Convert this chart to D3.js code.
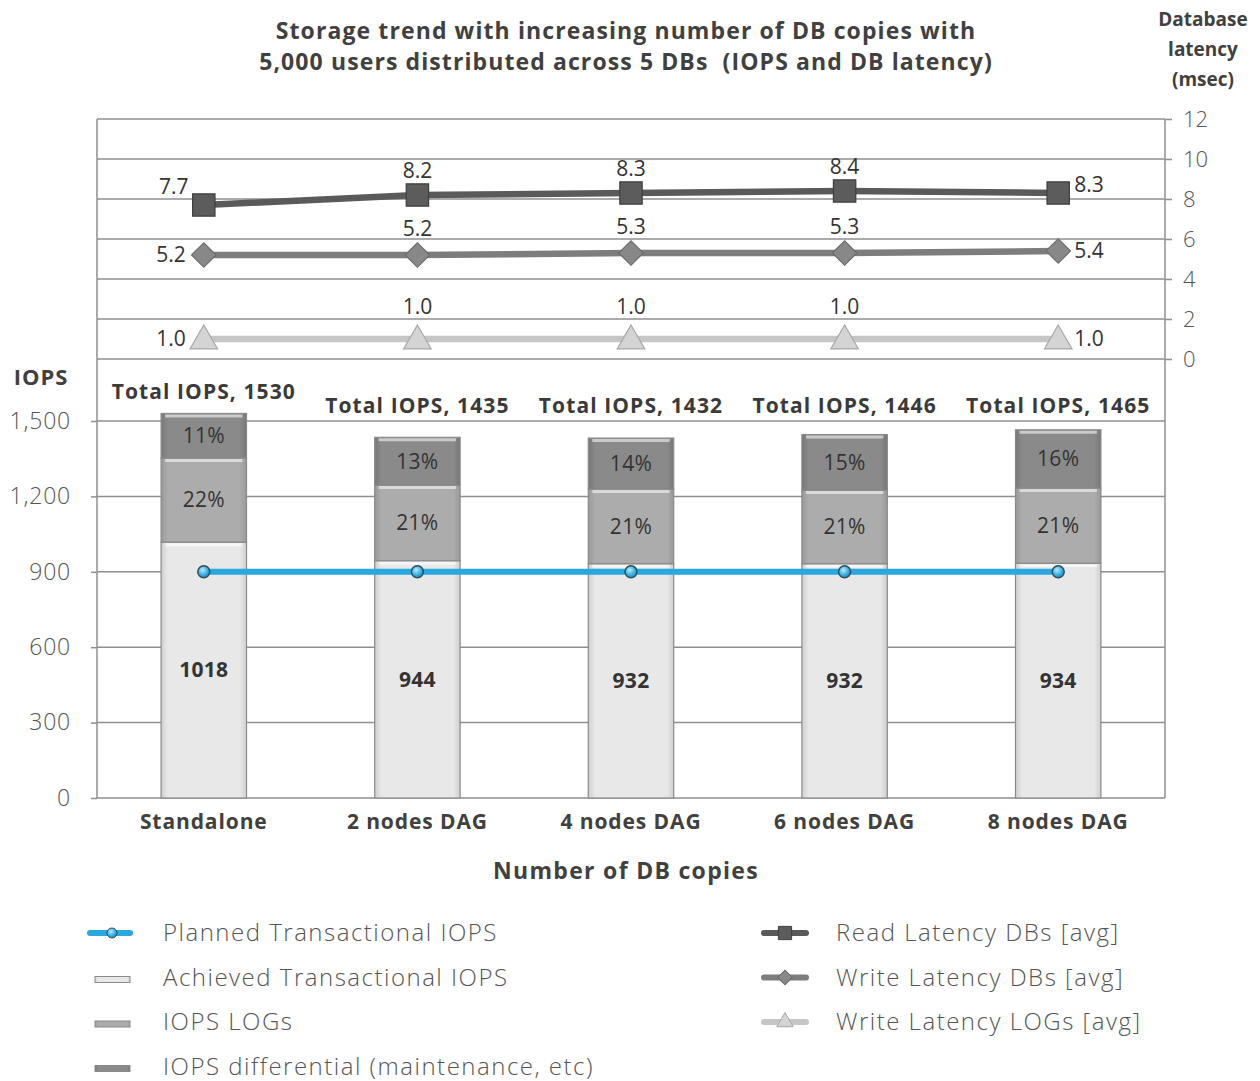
<!DOCTYPE html>
<html><head><meta charset="utf-8">
<script src="https://cdn.jsdelivr.net/npm/d3@7"></script>
<style>
body{margin:0;background:#fff;}
svg{display:block;font-family:"Open Sans",Lato,sans-serif;}
</style></head>
<body><svg id="c" width="1260" height="1081"></svg>
<script>
const categories = ["Standalone","2 nodes DAG","4 nodes DAG","6 nodes DAG","8 nodes DAG"];
const achievedIOPS = [1018, 944, 932, 932, 934];
const logIOPS = [335, 301, 297, 293, 299];
const diffIOPS = [177, 190, 203, 221, 232];
const totalIOPS = [1530, 1435, 1432, 1446, 1465];
const logPctLabels = ["22%","21%","21%","21%","21%"];
const diffPctLabels = ["11%","13%","14%","15%","16%"];
const plannedIOPS = [900, 900, 900, 900, 900];
const readLatency = [7.7, 8.2, 8.3, 8.4, 8.3];
const writeLatencyDB = [5.2, 5.2, 5.3, 5.3, 5.4];
const writeLatencyLOG = [1.0, 1.0, 1.0, 1.0, 1.0];
const iopsTicks = [0, 300, 600, 900, 1200, 1500];
const latencyTicks = [0, 2, 4, 6, 8, 10, 12];

const svg = d3.select("#c");
const L = 97, R = 1165;
const x = d3.scaleBand().domain(categories).range([L, R]).paddingInner(0.6).paddingOuter(0.3);
const yI = d3.scaleLinear().domain([0, 1500]).range([798, 421]);
const yL = d3.scaleLinear().domain([0, 12]).range([359, 119]);
const cx = c => x(c) + x.bandwidth() / 2;

const defs = svg.append("defs");
function grad(id, edge, mid) {
  const g = defs.append("linearGradient").attr("id", id).attr("x1", 0).attr("x2", 1).attr("y1", 0).attr("y2", 0);
  g.append("stop").attr("offset", "0%").attr("stop-color", edge);
  g.append("stop").attr("offset", "8%").attr("stop-color", mid);
  g.append("stop").attr("offset", "92%").attr("stop-color", mid);
  g.append("stop").attr("offset", "100%").attr("stop-color", edge);
}
grad("gAch", "#cfcfcf", "#e8e8e8");
grad("gLog", "#999999", "#acacac");
grad("gDiff", "#777777", "#8a8a8a");
const rg = defs.append("radialGradient").attr("id", "gDot").attr("cx", "40%").attr("cy", "35%").attr("r", "65%");
rg.append("stop").attr("offset", "0%").attr("stop-color", "#bfe9fb");
rg.append("stop").attr("offset", "60%").attr("stop-color", "#3fb4e6");
rg.append("stop").attr("offset", "100%").attr("stop-color", "#2089b8");

const gridColor = "#8f8f8f";
// Latency grid (top panel)
const yLAxis = d3.axisRight(yL).tickValues(latencyTicks).tickSize(7).tickPadding(11);
const gL = svg.append("g").attr("transform", `translate(${R},0)`).call(yLAxis);
gL.select(".domain").remove();
gL.selectAll("line").attr("stroke", gridColor).attr("stroke-width", 1.5);
gL.selectAll("text").attr("font-size", 22).attr("fill", "#555").attr("font-weight", 300).attr("font-family", "'Open Sans',sans-serif");
svg.append("g").selectAll("line").data(latencyTicks).join("line")
  .attr("x1", L).attr("x2", R).attr("y1", d => yL(d)).attr("y2", d => yL(d))
  .attr("stroke", gridColor).attr("stroke-width", 1.5);

// IOPS grid (bottom panel)
const yIAxis = d3.axisLeft(yI).tickValues(iopsTicks).tickSize(6).tickPadding(20).tickFormat(d3.format(","));
const gI = svg.append("g").attr("transform", `translate(${L},0)`).call(yIAxis);
gI.select(".domain").remove();
gI.selectAll("line").attr("stroke", gridColor).attr("stroke-width", 1.5);
gI.selectAll("text").attr("font-size", 23).attr("fill", "#555").attr("font-weight", 300)
  .attr("letter-spacing", 0.8).attr("font-family", "'Open Sans',sans-serif");
svg.append("g").selectAll("line").data(iopsTicks).join("line")
  .attr("x1", L).attr("x2", R).attr("y1", d => yI(d)).attr("y2", d => yI(d))
  .attr("stroke", gridColor).attr("stroke-width", 1.5);

// frame verticals
svg.append("line").attr("x1", L).attr("x2", L).attr("y1", yL(12)).attr("y2", yI(0)).attr("stroke", gridColor).attr("stroke-width", 1.5);
svg.append("line").attr("x1", R).attr("x2", R).attr("y1", yL(12)).attr("y2", yI(0)).attr("stroke", gridColor).attr("stroke-width", 1.5);

// Bars
const rows = categories.map((c, i) => ({
  c, ach: achievedIOPS[i], log: logIOPS[i], diff: diffIOPS[i], total: totalIOPS[i],
  logPct: logPctLabels[i], diffPct: diffPctLabels[i]
}));
const segs = [];
rows.forEach(r => {
  segs.push({c: r.c, y0: 0, y1: r.ach, fill: "url(#gAch)", label: String(r.ach), bold: true});
  segs.push({c: r.c, y0: r.ach, y1: r.ach + r.log, fill: "url(#gLog)", label: r.logPct, bold: false});
  segs.push({c: r.c, y0: r.ach + r.log, y1: r.ach + r.log + r.diff, fill: "url(#gDiff)", label: r.diffPct, bold: false});
});
const bars = svg.append("g");
bars.selectAll("rect").data(segs).join("rect")
  .attr("x", d => x(d.c)).attr("width", x.bandwidth())
  .attr("y", d => yI(d.y1)).attr("height", d => yI(d.y0) - yI(d.y1))
  .attr("fill", d => d.fill).attr("stroke", "#8a8a8a").attr("stroke-width", 1.2);
bars.selectAll("line.hl").data(segs).join("line").attr("class", "hl")
  .attr("x1", d => x(d.c) + 4).attr("x2", d => x(d.c) + x.bandwidth() - 4)
  .attr("y1", d => yI(d.y1) + 2.5).attr("y2", d => yI(d.y1) + 2.5)
  .attr("stroke", "#ffffff").attr("stroke-opacity", 0.55).attr("stroke-width", 3);
bars.selectAll("text").data(segs).join("text")
  .attr("x", d => cx(d.c)).attr("y", d => (yI(d.y0) + yI(d.y1)) / 2)
  .attr("dy", "0.35em").attr("text-anchor", "middle")
  .attr("font-size", 21).attr("fill", "#333").attr("letter-spacing", 0.3)
  .attr("font-weight", d => d.bold ? 700 : 400)
  .text(d => d.label);

// Total labels
svg.append("g").selectAll("text").data(rows).join("text")
  .attr("x", d => cx(d.c)).attr("y", d => Math.min(yI(1435) - 24, yI(d.total) - 14))
  .attr("text-anchor", "middle").attr("font-size", 21).attr("font-weight", 700).attr("fill", "#3a3a3a")
  .attr("letter-spacing", 1.1)
  .text(d => "Total IOPS, " + d.total);

// Planned line
const plannedPts = categories.map((c, i) => [cx(c), yI(plannedIOPS[i])]);
svg.append("path").attr("d", d3.line()(plannedPts)).attr("fill", "none")
  .attr("stroke", "#29a8df").attr("stroke-width", 6);
svg.append("g").selectAll("circle").data(plannedPts).join("circle")
  .attr("cx", d => d[0]).attr("cy", d => d[1]).attr("r", 6)
  .attr("fill", "url(#gDot)").attr("stroke", "#2b4f63").attr("stroke-width", 1.5);

// Latency series
const series = [
  {vals: readLatency, line: "#5a5a5a", fill: "#5c5c5c", stroke: "#3f3f3f", sym: d3.symbolSquare, size: 500, rot: 0, midDy: -24, firstDx: -30, firstDy: -18, lastDy: -8},
  {vals: writeLatencyDB, line: "#7d7d7d", fill: "#888888", stroke: "#6a6a6a", sym: d3.symbolSquare, size: 300, rot: 45, midDy: -26, firstDx: -18, firstDy: 0, lastDy: 0},
  {vals: writeLatencyLOG, line: "#c6c6c6", fill: "#d4d4d4", stroke: "#a8a8a8", sym: d3.symbolTriangle, size: 330, rot: 0, midDy: -32, firstDx: -18, firstDy: 0, lastDy: 0}
];
series.forEach(s => {
  const pts = categories.map((c, i) => [cx(c), yL(s.vals[i]), s.vals[i], i]);
  svg.append("path").attr("d", d3.line()(pts)).attr("fill", "none")
    .attr("stroke", s.line).attr("stroke-width", 6.5);
  svg.append("g").selectAll("path").data(pts).join("path")
    .attr("transform", d => `translate(${d[0]},${d[1] + (s.sym === d3.symbolTriangle ? 2 : 0)}) rotate(${s.rot})`)
    .attr("d", d3.symbol().type(s.sym).size(s.size))
    .attr("fill", s.fill).attr("stroke", s.stroke).attr("stroke-width", 1.2);
  svg.append("g").selectAll("text").data(pts).join("text")
    .attr("x", d => d[3] === 0 ? d[0] + s.firstDx : d[3] === 4 ? d[0] + 16 : d[0])
    .attr("y", d => d[3] === 0 ? d[1] + s.firstDy : d[3] === 4 ? d[1] + s.lastDy : d[1] + s.midDy)
    .attr("dy", "0.35em")
    .attr("text-anchor", d => d[3] === 0 ? (s.sym === d3.symbolSquare && s.rot === 0 ? "middle" : "end") : d[3] === 4 ? "start" : "middle")
    .attr("font-size", 21).attr("fill", "#333")
    .text(d => d3.format(".1f")(d[2]));
});

// Titles
const titleLines = ["Storage trend with increasing number of DB copies with",
                    "5,000 users distributed across 5 DBs  (IOPS and DB latency)"];
svg.append("g").selectAll("text").data(titleLines).join("text")
  .attr("x", 626).attr("y", (d, i) => 39 + i * 31)
  .attr("text-anchor", "middle").attr("font-size", 23).attr("font-weight", 700)
  .attr("fill", "#404040").attr("letter-spacing", 1.1).attr("xml:space", "preserve")
  .text(d => d);
const rt = svg.append("text").attr("text-anchor", "middle").attr("font-size", 19).attr("font-weight", 700).attr("fill", "#404040");
["Database", "latency", "(msec)"].forEach((t, i) => rt.append("tspan").attr("x", 1203).attr("y", 26 + i * 30).text(t));
svg.append("text").attr("x", 41).attr("y", 385).attr("text-anchor", "middle").attr("font-size", 22).attr("font-weight", 700)
  .attr("letter-spacing", 1).attr("fill", "#404040").text("IOPS");

// X axis labels
svg.append("g").selectAll("text").data(categories).join("text")
  .attr("x", d => cx(d)).attr("y", 829).attr("text-anchor", "middle")
  .attr("font-size", 21).attr("font-weight", 700).attr("letter-spacing", 0.9).attr("fill", "#404040").text(d => d);
svg.append("text").attr("x", 626).attr("y", 879).attr("text-anchor", "middle")
  .attr("font-size", 23).attr("font-weight", 700).attr("letter-spacing", 1.3).attr("fill", "#404040").text("Number of DB copies");

// Legend
const legLeft = [
  {t: "Planned Transactional IOPS", type: "planned"},
  {t: "Achieved Transactional IOPS", type: "bar", fill: "url(#gAch)"},
  {t: "IOPS LOGs", type: "bar", fill: "url(#gLog)"},
  {t: "IOPS differential (maintenance, etc)", type: "bar", fill: "url(#gDiff)"}
];
const legRight = [
  {t: "Read Latency DBs [avg]", s: series[0]},
  {t: "Write Latency DBs [avg]", s: series[1]},
  {t: "Write Latency LOGs [avg]", s: series[2]}
];
legLeft.forEach((d, i) => {
  const y = 933 + i * 44.5;
  const g = svg.append("g");
  if (d.type === "planned") {
    g.append("line").attr("x1", 90).attr("x2", 130).attr("y1", y).attr("y2", y).attr("stroke", "#29a8df").attr("stroke-width", 6).attr("stroke-linecap", "round");
    g.append("circle").attr("cx", 112).attr("cy", y).attr("r", 5).attr("fill", "url(#gDot)").attr("stroke", "#2b4f63");
  } else {
    g.append("rect").attr("x", 95).attr("y", y - 1).attr("width", 35).attr("height", 6).attr("fill", d.fill).attr("stroke", "#8a8a8a").attr("stroke-width", 1);
  }
  g.append("text").attr("x", 163).attr("y", y).attr("dy", "0.35em").attr("font-size", 24).attr("font-weight", 300)
    .attr("letter-spacing", 1.5).attr("fill", "#555").text(d.t);
});
legRight.forEach((d, i) => {
  const y = 933 + i * 44.5;
  const g = svg.append("g");
  g.append("line").attr("x1", 764).attr("x2", 806).attr("y1", y).attr("y2", y).attr("stroke", d.s.line).attr("stroke-width", 6).attr("stroke-linecap", "round");
  g.append("path").attr("transform", `translate(785,${y}) rotate(${d.s.rot})`).attr("d", d3.symbol().type(d.s.sym).size(d.s.size * 0.35))
    .attr("fill", d.s.fill).attr("stroke", d.s.stroke).attr("stroke-width", 1);
  g.append("text").attr("x", 836).attr("y", y).attr("dy", "0.35em").attr("font-size", 24).attr("font-weight", 300)
    .attr("letter-spacing", 1.5).attr("fill", "#555").text(d.t);
});
</script></body></html>
